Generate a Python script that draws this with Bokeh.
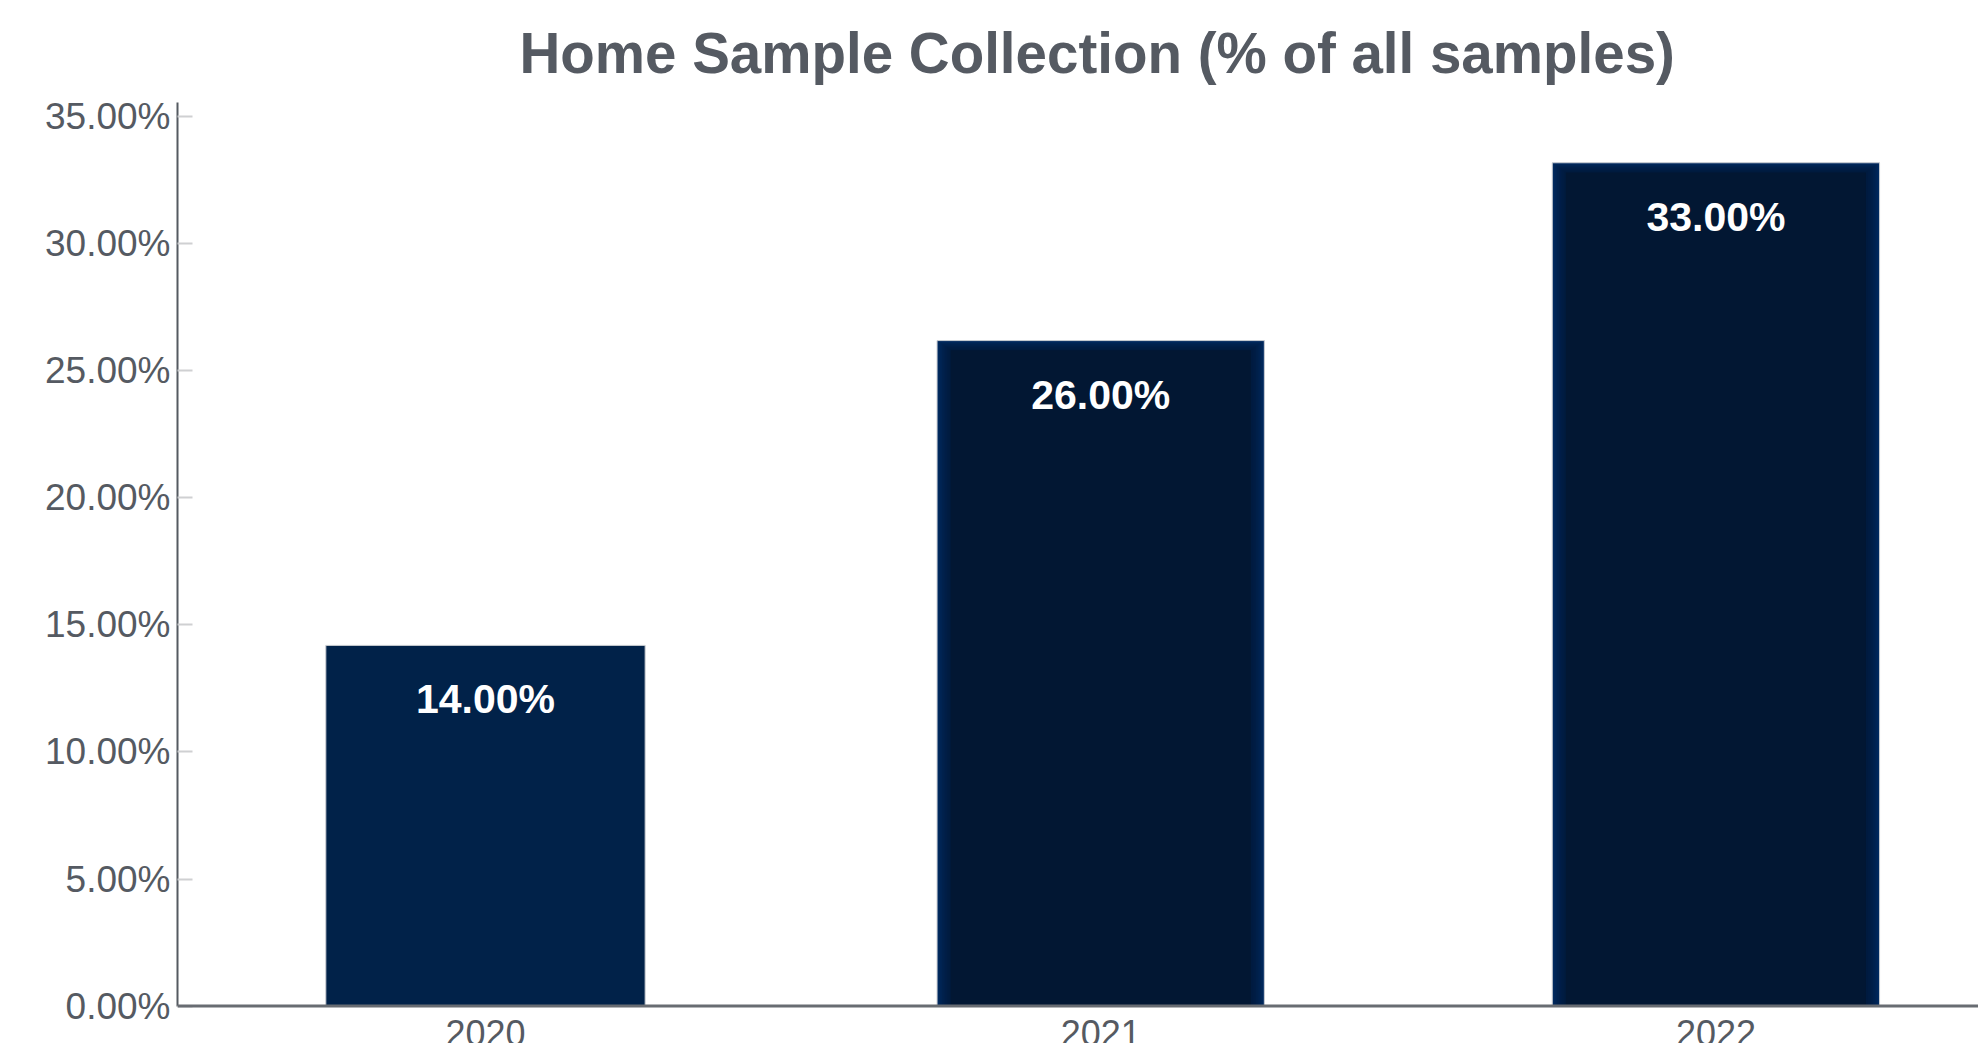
from bokeh.plotting import figure
from bokeh.models import Range1d, FixedTicker, NumeralTickFormatter, Span, ColumnDataSource
from bokeh.core.properties import value
from bokeh.embed import file_html
from bokeh.resources import INLINE

# ---- data ----
years = ["2020", "2021", "2022"]
shares = [0.14, 0.26, 0.33]
y_ticks = [0.0, 0.05, 0.10, 0.15, 0.20, 0.25, 0.30, 0.35]
title_text = "Home Sample Collection (% of all samples)"

# ---- styles ----
bar_colors = ["#012249", "#002a60", "#002a60"]
bar_widths = [0.519, 0.532, 0.532]
glow = [False, True, True]
core_color = "#021733"
text_gray = "#555a62"
FONT = "Liberation Sans"
BAR_TOP_PAD_PX = 5

W, H = 1978, 1043
FRAME_LEFT = 177
FRAME_TOP = 102
x_start, x_end = -0.5006, 2.4268
y_start, y_end = -0.01476, 0.3557
PX_X = (x_end - x_start) / (W - FRAME_LEFT)
PX_Y = (y_end - y_start) / (H - FRAME_TOP)

p = figure(width=W, height=H, output_backend="svg", toolbar_location=None,
           x_range=Range1d(x_start, x_end), y_range=Range1d(y_start, y_end),
           x_axis_location=None,
           min_border_left=FRAME_LEFT, min_border_top=FRAME_TOP,
           min_border_right=0, min_border_bottom=0,
           outline_line_color=None, background_fill_color="white",
           border_fill_color="white")
p.grid.visible = False

# title
p.title.text = title_text
p.title.align = "left"
p.title.offset = 342
p.title.text_font = FONT
p.title.text_font_style = "bold"
p.title.text_font_size = "56.5px"
p.title.text_color = text_gray
p.title.standoff = 35

# y axis
ya = p.yaxis[0]
ya.ticker = FixedTicker(ticks=y_ticks)
ya.formatter = NumeralTickFormatter(format="0.00%")
ya.bounds = (0, y_end)
ya.major_tick_in = 15
ya.major_tick_out = 0
ya.minor_tick_line_color = None
ya.major_tick_line_color = "#cfd0d2"
ya.major_tick_line_width = 2
ya.axis_line_color = "#555a61"
ya.axis_line_width = 2
ya.major_label_text_font = FONT
ya.major_label_text_font_size = "37px"
ya.major_label_text_color = text_gray
ya.major_label_standoff = 7

x = list(range(len(years)))
pad = BAR_TOP_PAD_PX * PX_Y
src = ColumnDataSource(dict(
    x=x, value=shares, top=[v + pad for v in shares], width=bar_widths,
    color=bar_colors, year=years,
    label=[f"{v * 100:.2f}%" for v in shares],
))

p.vbar(x="x", top="top", width="width", bottom=0, fill_color="color",
       line_color="#c9ccd1", line_width=1, source=src)

# inner glow for the highlighted bars
gi = [i for i, g in enumerate(glow) if g]
n_layers = 8
for k in range(1, n_layers + 1):
    p.vbar(x=[x[i] for i in gi],
           top=[shares[i] + pad - k * 1.2 * PX_Y for i in gi],
           width=[bar_widths[i] - 2 * k * 1.7 * PX_X for i in gi],
           bottom=0, fill_color=core_color,
           fill_alpha=0.17 if k < n_layers else 1.0, line_color=None)

p.text(x="x", y="value", text="label", source=src, text_color="white",
       text_font=value(FONT), text_font_style="bold", text_font_size="41px",
       text_align="center", text_baseline="alphabetic", y_offset=49)

p.text(x="x", y=0, text="year", source=src, text_color=text_gray,
       text_font=value(FONT), text_font_size="36px",
       text_align="center", text_baseline="alphabetic", y_offset=27)

p.add_layout(Span(location=0, dimension="width", line_color="#686c72", line_width=3))

open("out.html", "w").write(file_html(p, INLINE))
